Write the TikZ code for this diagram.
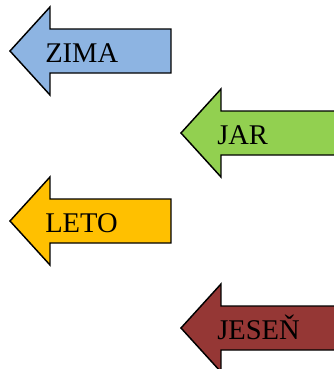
\documentclass[tikz,border=0pt]{standalone}
\usepackage{fontspec}
\setmainfont{Liberation Serif}

\definecolor{zimacol}{HTML}{8DB4E2}
\definecolor{jarcol}{HTML}{92D050}
\definecolor{letocol}{HTML}{FFC000}
\definecolor{jesencol}{HTML}{953735}

\tikzset{
  sipka/.style={draw=black, line width=1.1pt, line join=miter},
  popis/.style={anchor=base west, inner sep=0pt, font=\fontsize{21.4}{25}\selectfont}
}

\begin{document}
\begin{tikzpicture}[x=0.75pt, y=-0.75pt]
\useasboundingbox (0,0) rectangle (334,369);
\clip (0,0) rectangle (334,369);

\filldraw[sipka, fill=zimacol] (10,51) -- (50,7) -- (50,29) -- (171,29) -- (171,73) -- (50,73) -- (50,95) -- cycle;
\node[popis] (zima) at (45,62) {ZIMA};

\filldraw[sipka, fill=jarcol] (181,133) -- (221,89) -- (221,111) -- (345,111) -- (345,155) -- (221,155) -- (221,177) -- cycle;
\node[popis] (jar) at (217,144) {JAR};

\filldraw[sipka, fill=letocol] (10,221) -- (50,177) -- (50,199) -- (171,199) -- (171,243) -- (50,243) -- (50,265) -- cycle;
\node[popis] (leto) at (45,232) {LETO};

\filldraw[sipka, fill=jesencol] (181,328) -- (221,284) -- (221,306) -- (345,306) -- (345,350) -- (221,350) -- (221,372) -- cycle;
\node[popis] (jesen) at (217,339) {JESEŇ};

\end{tikzpicture}
\end{document}
